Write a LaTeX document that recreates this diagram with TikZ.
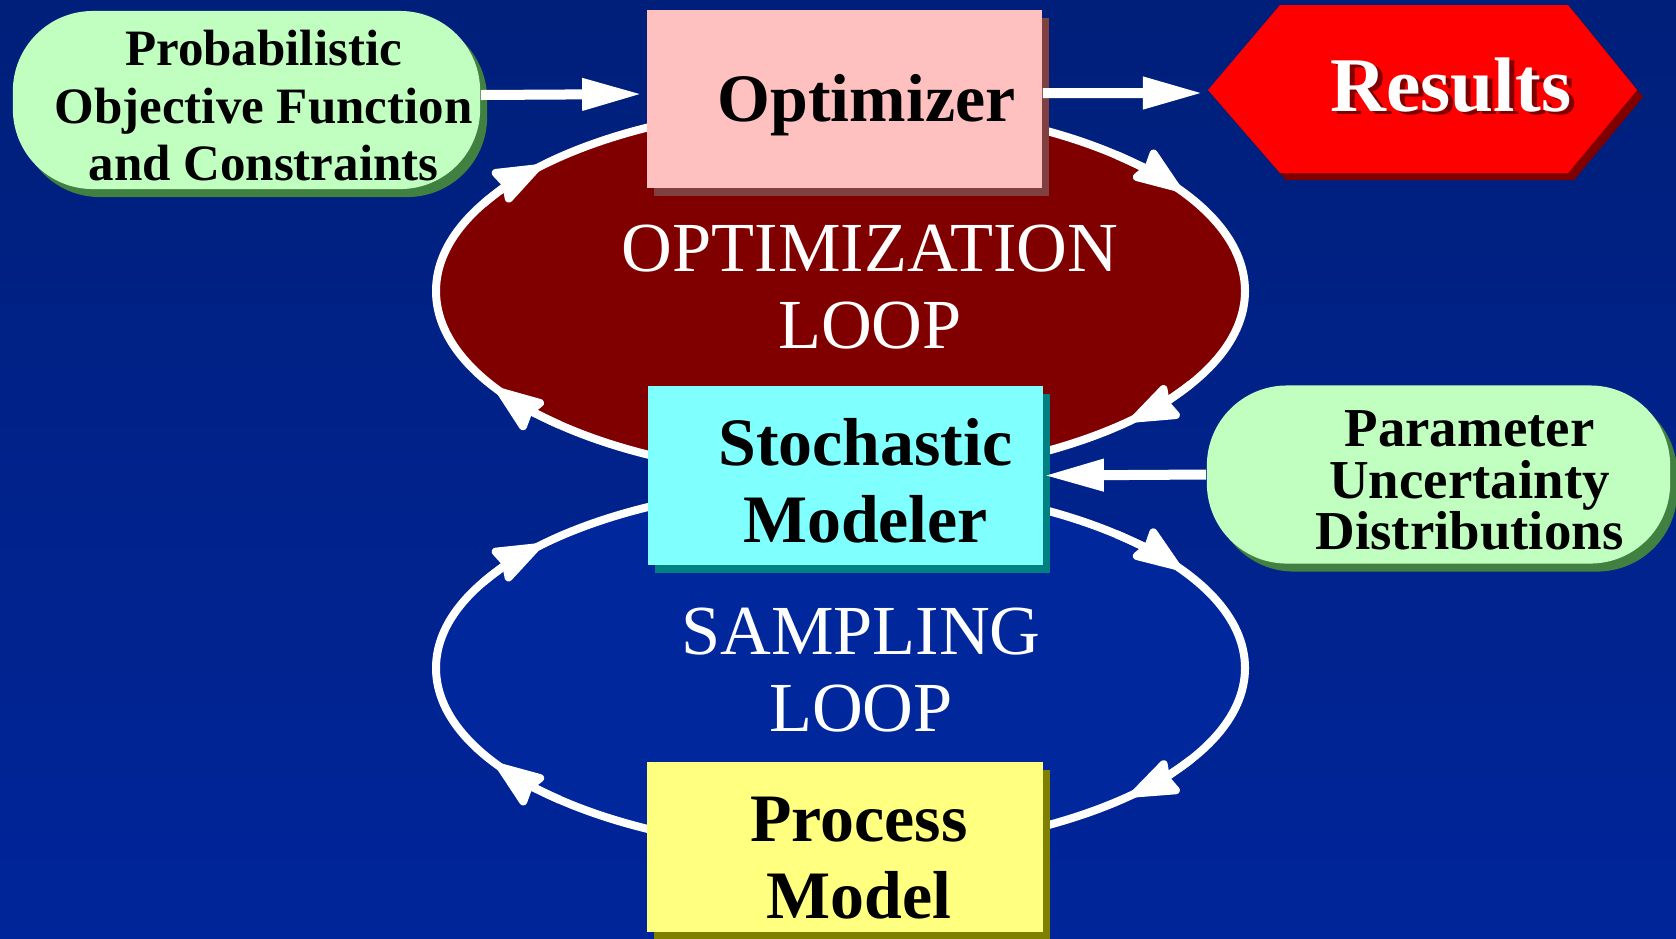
\documentclass[tikz,border=0pt]{standalone}
\usepackage{fontspec}
\setmainfont{Liberation Serif}
\usetikzlibrary{arrows.meta, shadows}
\definecolor{bgtop}{RGB}{0,31,122}
\definecolor{bgbottom}{RGB}{0,37,154}
\definecolor{samplefill}{RGB}{0,40,156}
\definecolor{optfill}{RGB}{128,0,0}
\definecolor{pinkbox}{RGB}{255,192,192}
\definecolor{pinkshadow}{RGB}{128,64,64}
\definecolor{cyanbox}{RGB}{128,255,255}
\definecolor{cyanshadow}{RGB}{0,128,128}
\definecolor{yellowbox}{RGB}{255,255,128}
\definecolor{yellowshadow}{RGB}{128,128,0}
\definecolor{greenpill}{RGB}{192,255,192}
\definecolor{greenshadow}{RGB}{64,128,64}
\definecolor{resultred}{RGB}{255,0,0}
\definecolor{resultshadow}{RGB}{128,0,0}
\newcommand{\shadowtext}[1]{\makebox[0pt][l]{\hspace{0.05cm}\raisebox{-0.03cm}{\color{resultshadow}#1}}#1}

\tikzset{
  loophead/.tip={Stealth[length=0.55cm, width=0.4cm, inset=0.05cm, round]},
  solidshadow/.style={drop shadow={shadow xshift=0.07cm, shadow yshift=-0.08cm, fill=#1, opacity=1}},
  modelbox/.style={rectangle, minimum width=3.95cm, minimum height=1.78cm, inner sep=0pt,
    align=center, font=\fontsize{19.3}{22}\selectfont\bfseries},
  inputpill/.style={rectangle, rounded corners=0.8cm, fill=greenpill, solidshadow=greenshadow,
    minimum height=1.78cm, inner sep=0pt, align=center},
  looplabel/.style={text=white, align=center, font=\fontsize{20}{22}\selectfont},
  flowarrow/.style={white, line width=0.1cm, -{Triangle[length=0.6cm, width=0.3cm]}},
  looppath/.style={draw=white, line width=0.08cm},
  looparrow/.style={white, line width=0.08cm, -{loophead}}
}

\begin{document}
\begin{tikzpicture}[x=0.01cm, y=-0.01cm]
  \useasboundingbox (0,0) rectangle (1676,938);
  \fill[top color=bgtop, bottom color=bgbottom] (0,0) rectangle (1676,938);

  % the two loops
  \draw[looppath, fill=optfill] (840.5,291) ellipse [x radius=404.5, y radius=186];
  \draw[looppath, fill=samplefill] (840.5,668) ellipse [x radius=404.5, y radius=183];
  \foreach \t in {30,134,208,313} {
    \draw[looparrow] ([shift={(\t:404.5 and 186)}]840.5,291) arc[start angle=\t, delta angle=14, x radius=404.5, y radius=186];
    \draw[looparrow] ([shift={(\t:404.5 and 183)}]840.5,668) arc[start angle=\t, delta angle=14, x radius=404.5, y radius=183];
  }
  \node[looplabel] (optloop) at (870,287) {OPTIMIZATION\\LOOP};
  \node[looplabel] (samploop) at (861,670) {SAMPLING\\LOOP};

  % boxes
  \node[modelbox, fill=pinkbox, solidshadow=pinkshadow] (opt) at (844.5,99)
    {\rule{0pt}{0.59cm}\hspace*{0.44cm}Optimizer};
  \node[modelbox, fill=cyanbox, solidshadow=cyanshadow] (stoch) at (845.5,475.5)
    {\rule{0pt}{0.57cm}\hspace*{0.4cm}Stochastic\\\hspace*{0.4cm}Modeler};
  \node[modelbox, fill=yellowbox, solidshadow=yellowshadow, minimum height=1.7cm] (proc) at (845,847)
    {\rule{0pt}{0.67cm}\hspace*{0.28cm}Process\\\hspace*{0.28cm}Model};

  % inputs and output
  \node[inputpill, minimum width=4.67cm, font=\fontsize{14.5}{16.3}\selectfont\bfseries] (prob) at (246.5,100)
    {\rule{0pt}{0.47cm}\hspace*{0.34cm}Probabilistic\\\hspace*{0.34cm}Objective Function\\\hspace*{0.34cm}and Constraints};
  \node[inputpill, minimum width=4.63cm, font=\fontsize{15.6}{14.7}\selectfont\bfseries] (param) at (1438.5,474.5)
    {\rule{0pt}{0.48cm}\hspace*{0.62cm}Parameter\\\hspace*{0.62cm}Uncertainty\\\hspace*{0.62cm}Distributions};

  \path[fill=resultred, drop shadow={shadow xshift=0.06cm, shadow yshift=-0.07cm, fill=resultshadow, opacity=1}]
    (1208,90) -- (1280,5) -- (1568,5) -- (1637,90) -- (1568,173) -- (1280,173) -- cycle;
  \coordinate (restip) at (1208,93);
  \node[text=white, font=\fontsize{22}{24}\selectfont\bfseries] (results) at (1451,87) {\shadowtext{Results}};

  \draw[flowarrow, shorten >=0.04cm] ([yshift=0.05cm]prob.east) -- ([yshift=0.05cm]opt.west);
  \draw[flowarrow, shorten >=0.05cm] ([yshift=0.06cm]opt.east) -- (restip);
  \draw[flowarrow] (param.west) -- (stoch.east);
\end{tikzpicture}
\end{document}
